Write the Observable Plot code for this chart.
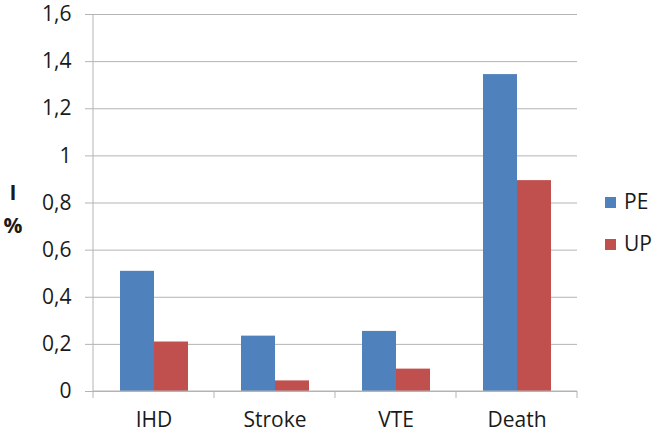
<!DOCTYPE html>
<html>
<head>
<meta charset="utf-8">
<script src="https://cdn.jsdelivr.net/npm/d3@7"></script>
<script src="https://cdn.jsdelivr.net/npm/@observablehq/plot@0.6"></script>
<style>
  html, body { margin: 0; padding: 0; background: #fff; }
  #chart { position: relative; width: 661px; height: 440px; }
</style>
</head>
<body>
<div id="chart"></div>
<script>
const categories = ["IHD", "Stroke", "VTE", "Death"];
const seriesNames = ["PE", "UP"];
const peValues = [0.51, 0.235, 0.255, 1.345];
const upValues = [0.21, 0.045, 0.095, 0.895];
const yTicks = [0, 0.2, 0.4, 0.6, 0.8, 1, 1.2, 1.4, 1.6];
const colors = ["#4F81BD", "#C0504D"];
const yLabel = ["I", "%"];

const data = [];
categories.forEach((c, i) => {
  data.push({category: c, series: "PE", value: peValues[i]});
  data.push({category: c, series: "UP", value: upValues[i]});
});

const font = "'Open Sans', sans-serif";
const gridColor = "#b4b4b4";
const fs = 21;

const plot = Plot.plot({
  width: 661,
  height: 440,
  marginLeft: 92,
  marginRight: 84,
  marginTop: 14,
  marginBottom: 49,
  style: {fontFamily: font, fontSize: fs + "px", color: "#1a1a1a", background: "#fff", overflow: "visible"},
  fx: {domain: categories, paddingInner: 0, paddingOuter: 0, label: null, axis: null},
  x: {domain: seriesNames, paddingInner: 0, paddingOuter: 0.73, axis: null},
  y: {domain: [0, 1.6], label: null},
  color: {domain: seriesNames, range: colors},
  marks: [
    Plot.gridY(yTicks, {stroke: gridColor, strokeOpacity: 1}),
    Plot.axisY(yTicks, {tickSize: 8, tickPadding: 14, stroke: gridColor, strokeOpacity: 1,
      tickFormat: d => String(d).replace(".", ","), fill: "#1a1a1a", fontSize: fs}),
    Plot.axisFx({anchor: "bottom", tickSize: 0, tickPadding: 21, fontSize: fs, fill: "#1a1a1a", label: null}),
    Plot.barY(data, {fx: "category", x: "series", y: "value", fill: "series"})
  ]
});

document.getElementById("chart").appendChild(plot);

// Extra axis decorations drawn from the plot's own scales
const svg = d3.select(plot);
const fxs = plot.scale("fx");
const ys = plot.scale("y");
const y0 = ys.apply(0), yTop = ys.apply(1.6);
const left = fxs.apply(categories[0]);
const g = svg.append("g").attr("stroke", gridColor).attr("stroke-width", 1);
g.append("line").attr("x1", left).attr("x2", left).attr("y1", yTop).attr("y2", y0 + 7);
g.append("line").attr("x1", left).attr("x2", fxs.apply(categories[categories.length - 1]) + fxs.bandwidth)
  .attr("y1", y0).attr("y2", y0);
categories.forEach(c => {
  const xr = fxs.apply(c) + fxs.bandwidth;
  g.append("line").attr("x1", xr).attr("x2", xr).attr("y1", y0).attr("y2", y0 + 7);
});

// Y axis title
const yl = svg.append("g").attr("font-family", font).attr("font-size", fs).attr("font-weight", "bold")
  .attr("fill", "#1a1a1a").attr("text-anchor", "middle");
yl.append("text").attr("x", 13).attr("y", 200).text(yLabel[0]);
yl.append("text").attr("x", 13).attr("y", 233).text(yLabel[1]);

// Legend
const lg = svg.append("g").attr("font-family", font).attr("font-size", fs).attr("fill", "#1a1a1a")
  .attr("text-anchor", "start");
seriesNames.forEach((s, i) => {
  const yy = 202 + i * 42;
  lg.append("rect").attr("x", 605).attr("y", yy - 5).attr("width", 11).attr("height", 11).attr("fill", colors[i]);
  lg.append("text").attr("x", 624).attr("y", yy).attr("dy", "0.35em").text(s);
});
</script>
</body>
</html>
